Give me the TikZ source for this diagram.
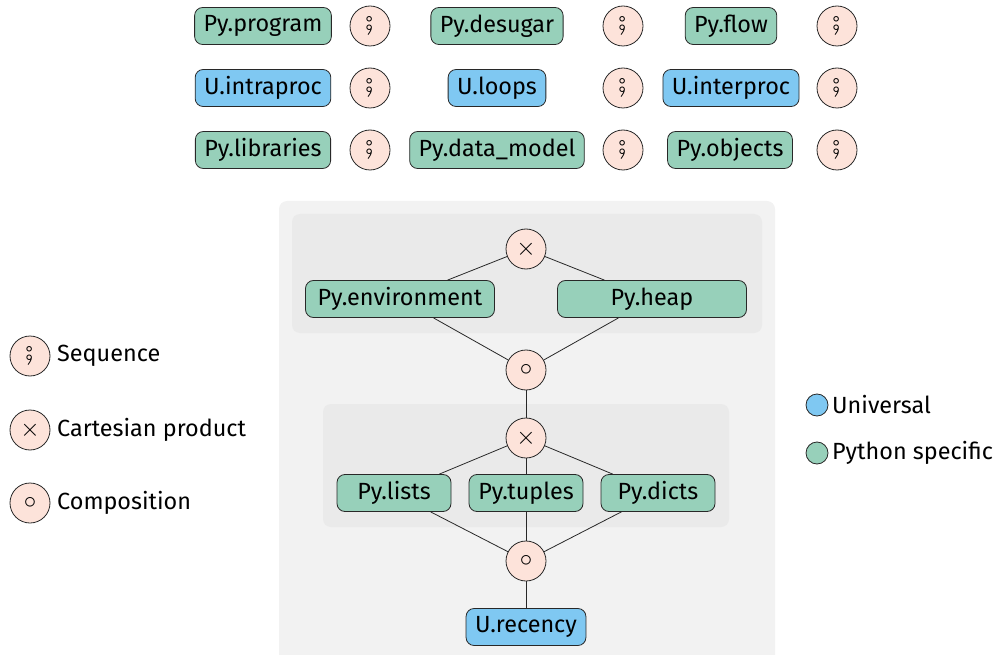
\documentclass[tikz,border=0pt]{standalone}
\usepackage{fontspec}
\setmainfont{Fira Sans}
\usepackage{stmaryrd}
\definecolor{pygreen}{RGB}{151,208,186}
\definecolor{ublue}{RGB}{127,200,242}
\definecolor{oppink}{RGB}{253,227,218}
\definecolor{edgegray}{RGB}{40,40,40}
\definecolor{panel}{RGB}{242,242,242}
\definecolor{group}{RGB}{234,234,234}

\tikzset{
  pybox/.style={draw=edgegray, fill=pygreen, rounded corners=8pt, minimum height=37pt, inner xsep=9pt, line width=0.8pt},
  ubox/.style={pybox, fill=ublue},
  op/.style={circle, draw=edgegray, fill=oppink, minimum size=40pt, inner sep=0pt, line width=0.8pt},
  dot/.style={circle, draw=edgegray, minimum size=22pt, inner sep=0pt, line width=0.8pt},
  link/.style={draw=edgegray, line width=0.8pt},
  lab/.style={anchor=west, inner sep=0pt},
}

\begin{document}
\begin{tikzpicture}[x=1pt, y=-1pt, font=\fontsize{23.4}{28}\selectfont]
\useasboundingbox (0,0) rectangle (996,655);

% panels
\fill [panel, rounded corners=8pt] (279,201) rectangle (775,680);
\fill [group, rounded corners=8pt] (292,214) rectangle (762,333);
\fill [group, rounded corners=8pt] (323,404) rectangle (729,527);

% top rows
\node [pybox] (program) at (263,26) {Py.program};
\node [op] (seqA) at (370,26) {$\fatsemi$};
\node [pybox] (desugar) at (497,26) {Py.desugar};
\node [op] (seqB) at (623,26) {$\fatsemi$};
\node [pybox] (flow) at (731,26) {Py.flow};
\node [op] (seqC) at (837,26) {$\fatsemi$};

\node [ubox] (intraproc) at (263,88) {U.intraproc};
\node [op] (seqD) at (370,88) {$\fatsemi$};
\node [ubox] (loops) at (497,88) {U.loops};
\node [op] (seqE) at (623,88) {$\fatsemi$};
\node [ubox] (interproc) at (731,88) {U.interproc};
\node [op] (seqF) at (837,88) {$\fatsemi$};

\node [pybox] (libraries) at (263,150) {Py.libraries};
\node [op] (seqG) at (370,150) {$\fatsemi$};
\node [pybox] (datamodel) at (497,150) {Py.data\_model};
\node [op] (seqH) at (623,150) {$\fatsemi$};
\node [pybox] (objects) at (730,150) {Py.objects};
\node [op] (seqI) at (837,150) {$\fatsemi$};

% state tree
\node [op] (prodA) at (526,249) {$\times$};
\node [pybox, minimum width=189pt] (env) at (400,299) {Py.environment};
\node [pybox, minimum width=189pt] (heap) at (652,299) {Py.heap};
\node [op] (compA) at (526,370) {$\circ$};
\node [op] (prodB) at (526,438) {$\times$};
\node [pybox, minimum width=114pt] (lists) at (394,493) {Py.lists};
\node [pybox, minimum width=114pt] (tuples) at (526,493) {Py.tuples};
\node [pybox, minimum width=114pt] (dicts) at (658,493) {Py.dicts};
\node [op] (compB) at (526,561) {$\circ$};
\node [ubox] (recency) at (526,627) {U.recency};

\draw [link] (prodA) -- (env);
\draw [link] (prodA) -- (heap);
\draw [link] (env) -- (compA);
\draw [link] (heap) -- (compA);
\draw [link] (compA) -- (prodB);
\draw [link] (prodB) -- (lists);
\draw [link] (prodB) -- (tuples);
\draw [link] (prodB) -- (dicts);
\draw [link] (lists) -- (compB);
\draw [link] (tuples) -- (compB);
\draw [link] (dicts) -- (compB);
\draw [link] (compB) -- (recency);

% legends
\node [op] (keySeq) at (30,356) {$\fatsemi$};
\node [lab] (keySeqText) at (57,356) {Sequence};
\node [op] (keyProd) at (30,430) {$\times$};
\node [lab] (keyProdText) at (57,430) {Cartesian product};
\node [op] (keyComp) at (30,503) {$\circ$};
\node [lab] (keyCompText) at (57,503) {Composition};

\node [dot, fill=ublue] (keyU) at (817,405) {};
\node [lab] (keyUText) at (832,405) {Universal};
\node [dot, fill=pygreen] (keyPy) at (817,453) {};
\node [lab] (keyPyText) at (832,453) {Python specific};
\end{tikzpicture}
\end{document}
